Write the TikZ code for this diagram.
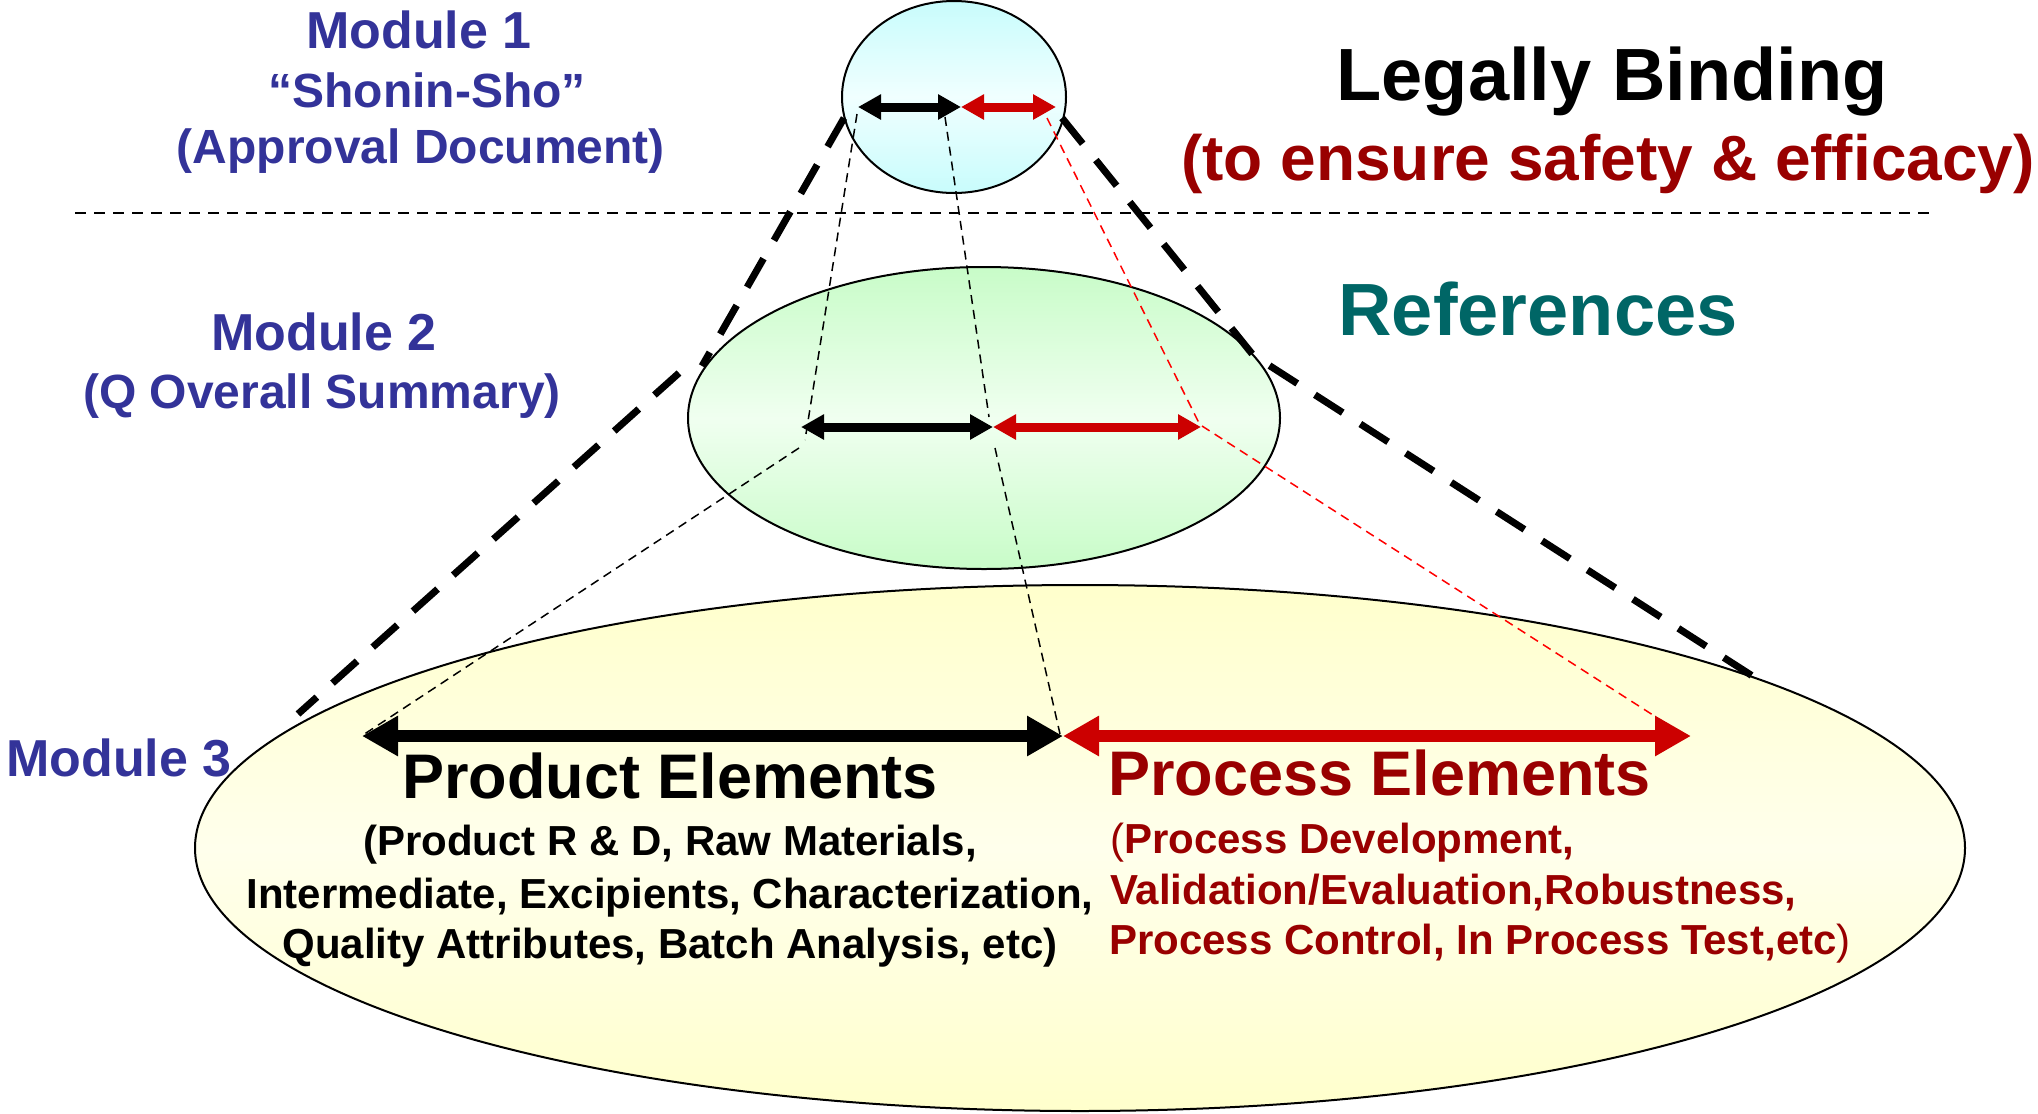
\documentclass[tikz,border=0pt]{standalone}
\usepackage{fontspec}
\setmainfont{Liberation Sans}
\usetikzlibrary{arrows.meta,shapes.geometric}
\definecolor{modblue}{HTML}{333399}
\definecolor{darkred}{HTML}{990000}
\definecolor{refteal}{HTML}{006666}
\definecolor{arrred}{HTML}{CC0000}
\definecolor{thinred}{HTML}{FF0000}
\definecolor{cyanedge}{HTML}{C8FCFC}
\definecolor{cyanmid}{HTML}{F0FFFF}
\definecolor{greenedge}{HTML}{C8FCC8}
\definecolor{greenmid}{HTML}{F0FFF0}
\definecolor{yellowedge}{HTML}{FFFFCC}
\definecolor{yellowmid}{HTML}{FFFFEC}
\begin{document}
\begin{tikzpicture}[x=1pt,y=-1pt,
  ell/.style={ellipse, draw=black, line width=2pt, inner sep=0pt},
  bigdash/.style={line width=7pt, dash pattern=on 33pt off 21pt},
  thindash/.style={line width=1.5pt, dash pattern=on 9pt off 6pt},
  sepline/.style={line width=2pt, dash pattern=on 11pt off 8pt},
  txt/.style={inner sep=0pt, anchor=base},
  modhead/.style={txt, text=modblue, font=\bfseries\fontsize{52}{60}\selectfont},
  modsub/.style={txt, text=modblue, font=\bfseries\fontsize{48}{56}\selectfont},
  bighead/.style={txt, font=\bfseries\fontsize{74}{84}\selectfont},
  elemhead/.style={txt, font=\bfseries\fontsize{63}{72}\selectfont},
  elemsub/.style={txt, font=\bfseries\fontsize{42}{50}\selectfont},
  sarrow/.style={line width=9pt, {Triangle[length=23pt,width=24pt]}-{Triangle[length=23pt,width=24pt]}},
  barrow/.style={line width=12pt, {Triangle[length=36pt,width=38pt]}-{Triangle[length=36pt,width=38pt]}}
]
\useasboundingbox (0,0) rectangle (2038,1114);

% ellipses
\node[ell, minimum width=1770pt, minimum height=526pt, top color=yellowedge, bottom color=yellowedge, middle color=yellowmid] (m3) at (1080,848) {};
\node[ell, minimum width=592pt, minimum height=302pt, top color=greenedge, bottom color=greenedge, middle color=greenmid] (m2) at (984,418) {};
\node[ell, minimum width=224pt, minimum height=192pt, top color=cyanedge, bottom color=cyanedge, middle color=cyanmid] (m1) at (954,97) {};

% separator
\coordinate (sepL) at (75,212.5);
\coordinate (sepR) at (1934,212.5);
\draw[sepline] (sepL) -- (sepR);

% arrow end points
\coordinate (a1L) at (858,107);
\coordinate (a1M) at (961,107);
\coordinate (a1R) at (1056,107);
\coordinate (a2L) at (801,427);
\coordinate (a2M) at (993,427);
\coordinate (a2R) at (1201,427);
\coordinate (a3L) at (362,736);
\coordinate (a3M) at (1063,736);
\coordinate (a3R) at (1691,736);

% thick dashed cone
\coordinate (kL1) at (844,118);
\coordinate (kL2) at (702,366);
\coordinate (kL3) at (679,373);
\coordinate (kL4) at (298,714);
\coordinate (kR1) at (1062,118);
\coordinate (kR2) at (1253,355);
\coordinate (kR3) at (1754,677);
\draw[bigdash] (kL1) -- (kL2);
\draw[bigdash] (kL3) -- (kL4);
\draw[bigdash] (kR1) -- (kR2) -- (kR3);

% thin dashed guides
\coordinate (g1a) at (857,114);
\coordinate (g1b) at (805,440);
\coordinate (g2a) at (799,448);
\coordinate (g2b) at (363,735);
\coordinate (g3a) at (945,117);
\coordinate (g3b) at (989,417);
\coordinate (g4a) at (995,448);
\coordinate (g4b) at (1060,734);
\coordinate (r1a) at (1047,118);
\coordinate (r1b) at (1200,425);
\coordinate (r2a) at (1202,426);
\coordinate (r2b) at (1656,717);
\draw[thindash] (g1a) -- (g1b);
\draw[thindash] (g2a) -- (g2b);
\draw[thindash] (g3a) -- (g3b);
\draw[thindash] (g4a) -- (g4b);
\draw[thindash, thinred] (r1a) -- (r1b);
\draw[thindash, thinred] (r2a) -- (r2b);

% double arrows
\draw[sarrow, black] (a1L) -- (a1M);
\draw[sarrow, arrred] (a1M) -- (a1R);
\draw[sarrow, black] (a2L) -- (a2M);
\draw[sarrow, arrred] (a2M) -- (a2R);
\draw[barrow, black] (a3L) -- (a3M);
\draw[barrow, arrred] (a3M) -- (a3R);

% left labels
\node[modhead] (mod1) at (419,48) {Module 1};
\node[modsub] (shonin) at (427,107) {“Shonin-Sho”};
\node[modsub] (approval) at (421,163) {(Approval Document)};
\node[modhead] (mod2) at (324,350) {Module 2};
\node[modsub] (qos) at (322,408) {(Q Overall Summary)};
\node[modhead] (mod3) at (119,776) {Module 3};

% right labels
\node[bighead] (legal) at (1612,100) {Legally Binding};
\node[txt, text=darkred, font=\bfseries\fontsize{64}{72}\selectfont] (safety) at (1608,180) {(to ensure safety \& efficacy)};
\node[bighead, text=refteal] (refs) at (1538,335) {References};

% product elements
\node[elemhead] (prodhead) at (670,798) {Product Elements};
\node[elemsub] (prod1) at (670,855) {(Product R \& D, Raw Materials,};
\node[elemsub] (prod2) at (670,908) {Intermediate, Excipients, Characterization,};
\node[elemsub] (prod3) at (670,958) {Quality Attributes, Batch Analysis, etc)};

% process elements
\node[elemhead, anchor=base west, text=darkred] (prochead) at (1108,795) {Process Elements};
\node[elemsub, anchor=base west, text=darkred] (proc1) at (1110,853) {{\mdseries(}Process Development,};
\node[elemsub, anchor=base west, text=darkred] (proc2) at (1110,904) {Validation/Evaluation,Robustness,};
\node[elemsub, anchor=base west, text=darkred] (proc3) at (1109,954) {Process Control, In Process Test,etc{\mdseries)}};
\end{tikzpicture}
\end{document}
